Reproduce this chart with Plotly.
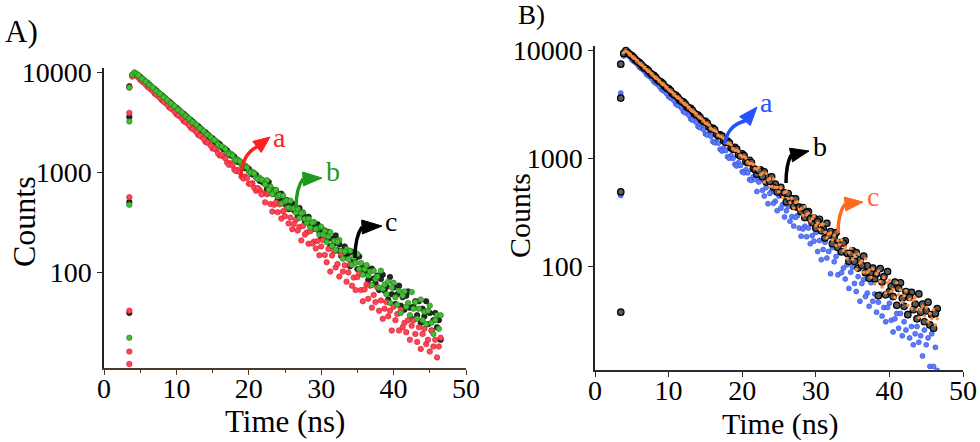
import math
import plotly.graph_objects as go

W, H = 980, 442

# time channels (ns) after the peak, shared by all decays
t = [4.5, 5.0, 5.5, 6.0, 6.5, 7.0, 7.5, 8.0, 8.5, 9.0,
     9.5, 10.0, 10.5, 11.0, 11.5, 12.0, 12.5, 13.0, 13.5, 14.0,
     14.5, 15.0, 15.5, 16.0, 16.5, 17.0, 17.5, 18.0, 18.5, 19.0,
     19.5, 20.0, 20.5, 21.0, 21.5, 22.0, 22.5, 23.0, 23.5, 24.0,
     24.5, 25.0, 25.5, 26.0, 26.5, 27.0, 27.5, 28.0, 28.5, 29.0,
     29.5, 30.0, 30.5, 31.0, 31.5, 32.0, 32.5, 33.0, 33.5, 34.0,
     34.5, 35.0, 35.5, 36.0, 36.5, 37.0, 37.5, 38.0, 38.5, 39.0,
     39.5, 40.0, 40.5, 41.0, 41.5, 42.0, 42.5, 43.0, 43.5, 44.0,
     44.5, 45.0, 45.5, 46.0, 46.5]
t_mid = [4.75, 5.25, 5.75, 6.25, 6.75, 7.25, 7.75, 8.25, 8.75, 9.25,
         9.75, 10.25, 10.75, 11.25, 11.75, 12.25, 12.75, 13.25, 13.75, 14.25,
         14.75, 15.25, 15.75, 16.25, 16.75, 17.25, 17.75, 18.25, 18.75, 19.25,
         19.75, 20.25, 20.75, 21.25, 21.75, 22.25, 22.75, 23.25, 23.75, 24.25,
         24.75, 25.25, 25.75, 26.25, 26.75, 27.25, 27.75, 28.25, 28.75, 29.25,
         29.75, 30.25, 30.75, 31.25, 31.75, 32.25, 32.75, 33.25, 33.75, 34.25,
         34.75, 35.25, 35.75, 36.25, 36.75, 37.25, 37.75, 38.25, 38.75, 39.25,
         39.75, 40.25, 40.75, 41.25, 41.75, 42.25, 42.75, 43.25, 43.75, 44.25,
         44.75, 45.25, 45.75, 46.25]

# ---- panel A ----
a_red_rise_t = [3.5, 3.5, 3.5, 3.5, 3.5, 3.5, 3.9, 4.2]
a_red_rise_y = [12, 16, 41, 560, 3900, 7000, 9000, 9500]
a_red = [9150, 8350, 7850, 7150, 6720, 6100, 5750, 5220, 4920, 4450,
         4210, 3800, 3610, 3240, 3090, 2770, 2650, 2360, 2270, 2010,
         1950, 1715, 1670, 1460, 1430, 1245, 1225, 1060, 1050, 900,
         900, 765, 772, 650, 662, 612, 598, 478, 470, 396,
         342, 361, 306, 268, 332, 282, 289, 248, 256, 201,
         204, 180, 148, 170, 146, 111, 90, 101, 80, 119,
         88, 89, 66, 67, 54, 44, 50, 41, 34, 50,
         41, 45, 38, 42, 31, 33, 29, 24, 28, 24,
         19, 16, 18, 14, 22]
a_red_mid = [8800, 8050, 7520, 6900, 6430, 5900, 5500, 5040, 4700, 4310,
             4020, 3680, 3440, 3150, 2940, 2690, 2515, 2300, 2150, 1965,
             1840, 1720, 1530, 1480, 1370, 1180, 1170, 1020, 1000, 860,
             870, 760, 695, 690, 598, 497, 622, 402, 496, 475,
             406, 435, 350, 303, 260, 207, 237, 192, 193, 172,
             147, 209, 125, 101, 160, 120, 149, 117, 99, 73,
             66, 98, 51, 75, 73, 59, 70, 52, 43, 36,
             26, 33, 26, 28, 25, 21, 33, 20, 17, 27,
             21, 26, 21, 18]

a_green_rise_t = [3.5, 3.5, 3.5, 3.5, 3.9, 4.2]
a_green_rise_y = [22, 470, 3200, 7000, 9400, 9900]
a_green = [9600, 8850, 8350, 7700, 7250, 6650, 6280, 5780, 5450, 5000,
           4720, 4330, 4100, 3750, 3560, 3250, 3090, 2810, 2680, 2430,
           2330, 2100, 2030, 1820, 1760, 1580, 1530, 1360, 1330, 1180,
           1160, 1020, 1005, 880, 875, 820, 828, 710, 636, 568,
           485, 508, 440, 432, 393, 347, 395, 311, 277, 316,
           273, 284, 257, 227, 183, 166, 209, 136, 169, 163,
           140, 151, 123, 107, 92, 74, 85, 70, 68, 60,
           49, 78, 47, 39, 64, 49, 63, 50, 43, 33,
           30, 46, 24, 37, 37]
a_green_mid = [9280, 8560, 8040, 7420, 6980, 6430, 6050, 5580, 5250, 4840,
               4550, 4190, 3940, 3630, 3420, 3150, 2960, 2730, 2570, 2365,
               2225, 2090, 1890, 1810, 1700, 1510, 1470, 1310, 1280, 1135,
               1110, 985, 965, 850, 838, 752, 666, 600, 662, 588,
               580, 520, 516, 433, 428, 387, 339, 341, 312, 269,
               237, 237, 199, 250, 204, 200, 162, 160, 135, 118,
               124, 107, 94, 117, 101, 103, 90, 103, 75, 80,
               70, 56, 65, 58, 45, 37, 43, 34, 53, 40,
               41, 31, 33, 27]

a_black_rise_t = [3.5, 3.5, 3.5, 3.5, 3.9, 4.2]
a_black_rise_y = [39, 500, 3550, 7200, 9300, 9800]
a_black = [9500, 8950, 8250, 7800, 7150, 6750, 6200, 5850, 5380, 5080,
           4650, 4400, 4020, 3820, 3480, 3310, 3010, 2880, 2610, 2500,
           2260, 2170, 1950, 1890, 1690, 1640, 1460, 1420, 1260, 1235,
           1090, 1075, 945, 935, 815, 780, 674, 663, 604, 533,
           606, 477, 425, 485, 418, 436, 381, 341, 292, 270,
           300, 226, 260, 251, 215, 232, 188, 164, 141, 114,
           131, 107, 108, 97, 83, 108, 77, 66, 94, 71,
           89, 70, 60, 46, 42, 64, 34, 51, 51, 43,
           51, 39, 33, 28, 21]
a_black_mid = [9200, 8630, 7980, 7490, 6920, 6500, 6000, 5630, 5200, 4890,
               4500, 4240, 3900, 3675, 3380, 3185, 2930, 2760, 2540, 2395,
               2200, 2040, 1950, 1770, 1690, 1530, 1470, 1330, 1270, 1150,
               1110, 995, 970, 860, 830, 798, 793, 666, 656, 594,
               521, 525, 479, 412, 364, 368, 322, 357, 306, 297,
               252, 244, 208, 181, 192, 164, 145, 180, 154, 159,
               137, 143, 113, 115, 103, 86, 92, 85, 65, 53,
               60, 48, 73, 56, 58, 44, 45, 37, 31, 36,
               30, 26, 39, 33]

# ---- panel B ----
b_blue_rise_t = [3.5, 3.5, 3.9, 4.2]
b_blue_rise_y = [455, 4000, 8800, 9400]
b_blue = [8950, 8150, 7700, 6980, 6600, 5960, 5650, 5100, 4840, 4360,
          4150, 3720, 3560, 3180, 3060, 2710, 2630, 2310, 2260, 1970,
          1940, 1680, 1665, 1430, 1430, 1215, 1230, 1035, 1060, 880,
          912, 750, 785, 636, 676, 494, 636, 448, 381, 495,
          402, 449, 374, 328, 262, 237, 296, 191, 236, 227,
          193, 207, 174, 144, 120, 86, 111, 84, 88, 77,
          63, 99, 59, 48, 76, 57, 71, 56, 47, 35,
          31, 46, 25, 37, 37, 31, 37, 28, 24, 20,
          15, 19, 12, 12, 11]
b_blue_mid = [8600, 7880, 7380, 6750, 6320, 5780, 5410, 4940, 4630, 4230,
              3960, 3610, 3400, 3080, 2920, 2630, 2500, 2250, 2150, 1920,
              1840, 1640, 1600, 1390, 1380, 1170, 1180, 1000, 1000, 850,
              860, 735, 735, 625, 640, 605, 507, 537, 474, 384,
              329, 347, 288, 361, 291, 285, 227, 223, 189, 163,
              172, 138, 116, 168, 138, 150, 124, 135, 97, 104,
              89, 70, 81, 70, 53, 43, 48, 38, 56, 42,
              42, 32, 33, 27, 23, 26, 22, 19, 28, 23,
              26, 22, 24, 18]

b_black_rise_t = [3.5, 3.5, 3.5, 3.5, 3.9, 4.2]
b_black_rise_y = [38, 490, 3600, 7400, 9300, 9900]
b_black = [9400, 8900, 8150, 7700, 7050, 6700, 6120, 5820, 5300, 5060,
           4600, 4400, 3980, 3820, 3460, 3320, 3000, 2890, 2600, 2510,
           2250, 2190, 1950, 1900, 1680, 1650, 1450, 1440, 1250, 1260,
           1080, 1100, 935, 960, 805, 714, 783, 750, 667, 675,
           578, 518, 464, 396, 415, 360, 353, 322, 284, 323,
           255, 227, 274, 224, 251, 211, 186, 150, 137, 173,
           112, 140, 135, 116, 125, 102, 88, 77, 54, 72,
           55, 59, 53, 44, 71, 43, 36, 58, 45, 56,
           45, 39, 29, 27, 41]
b_black_mid = [9080, 8560, 7870, 7430, 6830, 6450, 5920, 5600, 5140, 4860,
               4460, 4220, 3870, 3660, 3360, 3180, 2910, 2765, 2530, 2400,
               2190, 2110, 1870, 1840, 1620, 1600, 1400, 1390, 1215, 1215,
               1050, 1060, 910, 915, 790, 773, 677, 604, 613, 541,
               489, 540, 480, 473, 425, 422, 355, 350, 317, 278,
               280, 261, 214, 184, 195, 163, 206, 167, 165, 133,
               131, 112, 97, 103, 88, 78, 97, 86, 96, 81,
               90, 66, 72, 63, 51, 59, 52, 40, 33, 38,
               31, 47, 36, 37]

b_orange_rise_t = [3.9, 4.2]
b_orange_rise_y = [9500, 9800]
b_orange = [9500, 8750, 8250, 7600, 7160, 6600, 6220, 5720, 5400, 4970,
            4690, 4300, 4070, 3740, 3540, 3240, 3080, 2810, 2670, 2440,
            2320, 2110, 2020, 1830, 1755, 1590, 1525, 1375, 1325, 1190,
            1155, 1030, 1005, 890, 875, 793, 709, 605, 635, 549,
            539, 492, 435, 495, 390, 348, 397, 342, 357, 312,
            279, 240, 221, 246, 185, 204, 195, 174, 176, 151,
            135, 117, 94, 108, 89, 89, 80, 69, 91, 65,
            57, 75, 62, 71, 61, 54, 44, 41, 52, 34,
            43, 42, 37, 40, 33]
b_orange_mid = [9150, 8460, 7950, 7340, 6900, 6370, 5990, 5530, 5200, 4800,
                4510, 4170, 3915, 3620, 3400, 3140, 2950, 2725, 2560, 2365,
                2220, 2080, 1895, 1810, 1645, 1575, 1425, 1370, 1235, 1190,
                1070, 1035, 925, 898, 805, 826, 734, 724, 650, 645,
                542, 535, 485, 425, 429, 392, 337, 298, 302, 264,
                293, 251, 244, 208, 201, 176, 157, 159, 141, 119,
                148, 128, 131, 113, 118, 93, 95, 86, 73, 79,
                71, 59, 52, 55, 47, 60, 50, 49, 40, 40,
                35, 31, 33, 29]

y_ticks = [100, 1000, 10000]
x_ticks = [0, 10, 20, 30, 40, 50]

SERIF = "Liberation Serif"


def X(px):
    return px / W


def Y(py):
    return 1 - py / H


fig = go.Figure()


def add_series(rise_t, rise_y, vals, mids, xa, ya, size, fill, edge, edge_w):
    assert len(vals) == len(t) and len(mids) == len(t_mid)
    fig.add_trace(go.Scatter(
        x=rise_t + t + t_mid, y=rise_y + vals + mids, mode="markers",
        xaxis=xa, yaxis=ya, showlegend=False, hoverinfo="skip",
        marker=dict(size=size, color=fill, line=dict(color=edge, width=edge_w)),
    ))


# Panel A: black under red and green
add_series(a_black_rise_t, a_black_rise_y, a_black, a_black_mid, "x", "y",
           5.5, "#262626", "#000000", 0.6)
add_series(a_red_rise_t, a_red_rise_y, a_red, a_red_mid, "x", "y",
           5.5, "#ff4656", "#d01828", 0.6)
add_series(a_green_rise_t, a_green_rise_y, a_green, a_green_mid, "x", "y",
           5.5, "#46bb34", "#177a17", 0.6)

# Panel B
add_series(b_blue_rise_t, b_blue_rise_y, b_blue, b_blue_mid, "x2", "y2",
           5, "#5f7cff", "#2b49d6", 0.6)
add_series(b_black_rise_t, b_black_rise_y, b_black, b_black_mid, "x2", "y2",
           6.5, "#5a5a5a", "#000000", 1.2)
add_series(b_orange_rise_t, b_orange_rise_y, b_orange, b_orange_mid, "x2", "y2",
           3.5, "#ff8a3a", "#ff8a3a", 0)

tickfont = dict(family=SERIF, size=28, color="black")
common_x = dict(range=[0, 50], tickvals=x_ticks, ticks="outside", ticklen=5,
                tickwidth=1.2, showline=True, linewidth=1.5, showgrid=False,
                zeroline=False, tickfont=tickfont, automargin=False,
                ticklabelstandoff=-10)
common_y = dict(type="log", tickvals=y_ticks, ticktext=[str(v) for v in y_ticks],
                ticks="outside", ticklen=5, tickwidth=1.2, showline=True,
                linewidth=1.5, linecolor="#222", tickcolor="#222",
                showgrid=False, zeroline=False, tickfont=tickfont, automargin=False)

fig.update_layout(
    width=W, height=H,
    margin=dict(l=0, r=0, t=0, b=0),
    paper_bgcolor="white", plot_bgcolor="white",
    xaxis=dict(domain=[X(104), X(466)], anchor="y", linecolor="#4a3a2e",
               tickcolor="#4a3a2e",
               minor=dict(dtick=5, ticklen=3, ticks="outside", tickcolor="#4a3a2e"),
               **common_x),
    yaxis=dict(domain=[Y(368), Y(68)], anchor="x", range=[1.04, 4.04], **common_y),
    xaxis2=dict(domain=[X(595), X(963)], anchor="y2", linecolor="#2a2a33",
                tickcolor="#2a2a33", **common_x),
    yaxis2=dict(domain=[Y(370), Y(46)], anchor="x2", range=[1.046, 4.037], **common_y),
)

# text: panel letters and axis titles
texts = [
    ("A)", 3, 32, 31, 0, "left"),
    ("B)", 516, 15, 27, 0, "left"),
    ("Time (ns)", 285, 421, 31, 0, "center"),
    ("Time (ns)", 780, 424, 30, 0, "center"),
    ("Counts", 24, 222, 32, -90, "center"),
    ("Counts", 519, 216, 30, -90, "center"),
]
for txt, px, py, size, ang, anchor in texts:
    fig.add_annotation(text=txt, x=X(px), y=Y(py), xref="paper", yref="paper",
                       showarrow=False, xanchor=anchor, yanchor="middle",
                       textangle=ang, font=dict(family=SERIF, size=size, color="black"))

# curved arrows with labels: start, control, head base, tip (pixels)
arrows = [
    ((241, 177), (242, 154), (257, 147), (270, 137), "#ff1f1f", "a", (271, 137)),
    ((296, 208), (296, 188), (303, 179), (322, 178), "#1f9a1f", "b", (324, 172)),
    ((355, 258), (355, 237), (362, 227), (382, 226), "#000000", "c", (383, 221)),
    ((725, 143), (728, 125), (745, 121), (757, 107), "#2452ff", "a", (758, 102)),
    ((786, 183), (786, 165), (791, 155), (809, 151), "#000000", "b", (811, 147)),
    ((838, 233), (838, 213), (845, 204), (863, 202), "#ff6a1e", "c", (865, 196)),
]
for (sx, sy), (cx, cy), (bx, by), (tx, ty), col, lab, (lx, ly) in arrows:
    fig.add_shape(type="path", xref="paper", yref="paper",
                  path=f"M {X(sx)},{Y(sy)} Q {X(cx)},{Y(cy)} {X(bx)},{Y(by)}",
                  line=dict(color=col, width=3.5))
    dx, dy = tx - bx, ty - by
    n = math.hypot(dx, dy)
    nx, ny = -dy / n * 7, dx / n * 7
    fig.add_shape(type="path", xref="paper", yref="paper",
                  path=(f"M {X(bx + nx)},{Y(by + ny)} L {X(tx)},{Y(ty)} "
                        f"L {X(bx - nx)},{Y(by - ny)} Z"),
                  fillcolor=col, line=dict(color=col, width=1))
    fig.add_annotation(text=lab, x=X(lx), y=Y(ly), xref="paper", yref="paper",
                       showarrow=False, xanchor="left", yanchor="middle",
                       font=dict(family=SERIF, size=28, color=col))

# the page's default body margin would push the 980x442 figure off the window
fig.write_html("out.html", config={"displayModeBar": False},
               post_script="document.body.style.margin = '0';")
